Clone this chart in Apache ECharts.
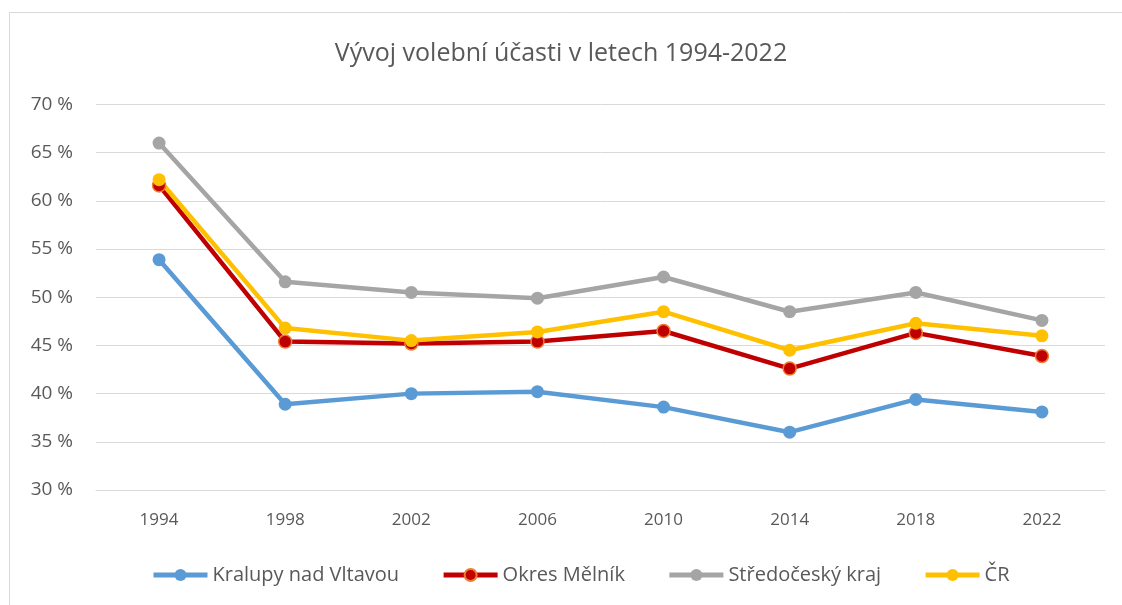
<!DOCTYPE html>
<html>
<head>
<meta charset="utf-8">
<script src="https://cdn.jsdelivr.net/npm/echarts@6/dist/echarts.min.js"></script>
<style>
  html, body { margin: 0; padding: 0; background: #fff; }
  #charts { width: 1122px; height: 605px; }
</style>
</head>
<body>
<div id="charts"></div>
<script>
// roky voleb
var years = ['1994', '1998', '2002', '2006', '2010', '2014', '2018', '2022'];

// volební účast v %
var kralupy = [53.9, 38.9, 40.0, 40.2, 38.6, 36.0, 39.4, 38.1];
var melnik = [61.6, 45.4, 45.2, 45.4, 46.5, 42.6, 46.3, 43.9];
var stredocesky = [66.0, 51.6, 50.5, 49.9, 52.1, 48.5, 50.5, 47.6];
var cr = [62.2, 46.8, 45.5, 46.4, 48.5, 44.5, 47.3, 46.0];

var yTicks = { min: 30, max: 70, interval: 5 };

var myChart = echarts.init(document.getElementById('charts'));

function line(name, data, color, border) {
    return {
        name: name,
        type: 'line',
        data: data,
        symbol: 'circle',
        symbolSize: 13,
        lineStyle: { width: 4.5, color: color },
        itemStyle: {
            color: color,
            borderColor: border || color,
            borderWidth: border ? 1.5 : 0
        },
        emphasis: { disabled: true }
    };
}

var option = {
    animation: false,
    backgroundColor: '#fff',
    graphic: [{
        type: 'rect',
        shape: { x: 9.5, y: 12.5, width: 1200, height: 700 },
        style: { fill: 'none', stroke: '#d9d9d9', lineWidth: 1 },
        silent: true
    }],
    title: {
        text: 'Vývoj volební účasti v letech 1994-2022',
        left: 'center',
        top: 36,
        textStyle: {
            fontFamily: 'Open Sans',
            fontWeight: 'normal',
            fontSize: 25,
            color: '#595959'
        }
    },
    legend: {
        bottom: 15,
        left: 146,
        itemWidth: 54,
        itemHeight: 15,
        itemGap: 42,
        lineStyle: { width: 5 },
        textStyle: { fontFamily: 'Open Sans', fontSize: 20, color: '#595959' },
        data: ['Kralupy nad Vltavou', 'Okres Mělník', 'Středočeský kraj', 'ČR']
    },
    grid: { left: 96, right: 17, top: 104.5, bottom: 115, containLabel: false },
    xAxis: {
        type: 'category',
        boundaryGap: true,
        data: years,
        axisLine: { lineStyle: { color: '#d9d9d9' } },
        axisTick: { show: false },
        axisLabel: {
            margin: 22,
            fontFamily: 'Open Sans',
            fontSize: 17,
            color: '#595959'
        }
    },
    yAxis: {
        type: 'value',
        min: yTicks.min,
        max: yTicks.max,
        interval: yTicks.interval,
        axisLine: { show: false },
        axisTick: { show: false },
        splitLine: { lineStyle: { color: '#d9d9d9', width: 1 } },
        axisLabel: {
            margin: 23,
            fontFamily: 'Open Sans',
            fontSize: 19,
            color: '#595959',
            formatter: function (v) { return v + ' %'; }
        }
    },
    series: [
        line('Kralupy nad Vltavou', kralupy, '#5B9BD5'),
        line('Okres Mělník', melnik, '#C00000', '#ED7D31'),
        line('Středočeský kraj', stredocesky, '#A5A5A5'),
        line('ČR', cr, '#FFC000')
    ]
};

myChart.setOption(option);
</script>
</body>
</html>
